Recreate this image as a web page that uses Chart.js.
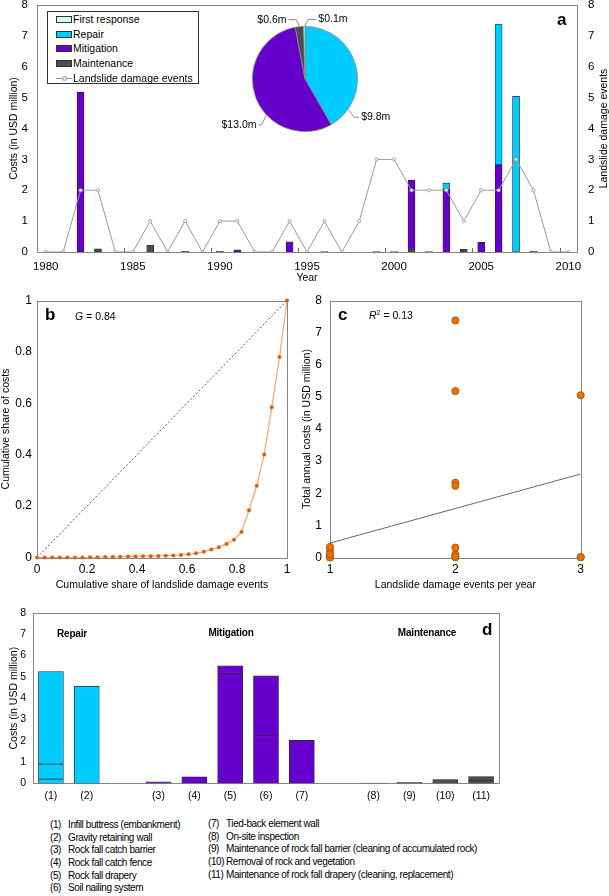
<!DOCTYPE html>
<html>
<head>
<meta charset="utf-8">
<script src="https://cdn.jsdelivr.net/npm/chart.js@4.4.0/dist/chart.umd.min.js"></script>
<style>
  body { margin: 0; background: #fff; }
  #wrap { position: relative; width: 609px; height: 896px; overflow: hidden; font-family: "Liberation Sans", Arial, sans-serif; color: #000; }
  canvas { position: absolute; }
  .lab { position: absolute; line-height: 1; white-space: nowrap; }
  .big { font-weight: bold; font-size: 17px; }
  #legA { position: absolute; left: 47px; top: 11px; width: 150px; height: 71px; border: 1px solid #333; background: #fff; font-size: 10.5px; }
  #legA .row { position: absolute; left: 0; width: 150px; height: 14px; line-height: 14px; }
  #legA .sw { position: absolute; left: 8px; top: 4px; width: 14px; height: 5px; border: 1px solid #333; }
  #legA .ln { position: absolute; left: 8px; top: 7px; width: 16px; height: 1px; background: #9a9a9a; }
  #legA .dot { position: absolute; left: 14px; top: 5px; width: 3px; height: 3px; border-radius: 50%; background: #e6e6e6; border: 0.5px solid #9a9a9a; }
  #legA .tx { position: absolute; left: 25px; top: 0; white-space: nowrap; }
  #y2title { position: absolute; left: 503px; top: 122px; width: 200px; height: 13px; line-height: 13px; font-size: 10.5px; text-align: center; transform: rotate(-90deg); white-space: nowrap; }
  .notes { position: absolute; font-size: 10px; line-height: 12.67px; letter-spacing: -0.4px; white-space: nowrap; }
  .notes span { display: inline-block; width: 18px; }
  .sec { position: absolute; font-weight: bold; font-size: 10px; line-height: 1; text-align: center; width: 100px; letter-spacing: -0.2px; }
</style>
</head>
<body>
<div id="wrap">
  <canvas id="chartA" width="609" height="290" style="left:0;top:0"></canvas>
  <canvas id="pieA" width="190" height="140" style="left:210px;top:9px"></canvas>
  <div id="y2title">Landslide damage events</div>
  <div id="legA">
    <div class="row" style="top:0"><div class="sw" style="background:#ccffff"></div><div class="tx">First response</div></div>
    <div class="row" style="top:14.7px"><div class="sw" style="background:#00ccff"></div><div class="tx">Repair</div></div>
    <div class="row" style="top:29.4px"><div class="sw" style="background:#6600cc"></div><div class="tx">Mitigation</div></div>
    <div class="row" style="top:44.1px"><div class="sw" style="background:#4d4d4d"></div><div class="tx">Maintenance</div></div>
    <div class="row" style="top:58.8px"><div class="ln"></div><div class="dot"></div><div class="tx">Landslide damage events</div></div>
  </div>
  <div class="lab big" style="left:557px;top:10.6px">a</div>

  <canvas id="chartB" width="300" height="310" style="left:0;top:290px"></canvas>
  <div class="lab big" style="left:45px;top:306.3px">b</div>
  <div class="lab" style="left:75px;top:311px;font-size:10.5px"><i>G</i> = 0.84</div>

  <canvas id="chartC" width="309" height="310" style="left:300px;top:290px"></canvas>
  <div class="lab big" style="left:338px;top:305.6px">c</div>
  <div class="lab" style="left:369px;top:310px;font-size:10.5px"><i>R</i><sup style="font-size:7px;vertical-align:4px;line-height:0">2</sup> = 0.13</div>

  <canvas id="chartD" width="609" height="210" style="left:0;top:600px"></canvas>
  <div class="lab big" style="left:482px;top:620.6px">d</div>
  <div class="sec" style="left:22px;top:629px">Repair</div>
  <div class="sec" style="left:181px;top:628px">Mitigation</div>
  <div class="sec" style="left:377px;top:628px">Maintenance</div>

  <div class="notes" style="left:50px;top:819px">
    <div><span>(1)</span>Infill buttress (embankment)</div>
    <div><span>(2)</span>Gravity retaining wall</div>
    <div><span>(3)</span>Rock fall catch barrier</div>
    <div><span>(4)</span>Rock fall catch fence</div>
    <div><span>(5)</span>Rock fall drapery</div>
    <div><span>(6)</span>Soil nailing system</div>
  </div>
  <div class="notes" style="left:208px;top:818px">
    <div><span>(7)</span>Tied-back element wall</div>
    <div><span>(8)</span>On-site inspection</div>
    <div><span>(9)</span>Maintenance of rock fall barrier (cleaning of accumulated rock)</div>
    <div><span>(10)</span>Removal of rock and vegetation</div>
    <div><span>(11)</span>Maintenance of rock fall drapery (cleaning, replacement)</div>
  </div>
</div>

<script>
// ---- panel a: annual costs by type + landslide damage events
const years = [1980, 1981, 1982, 1983, 1984, 1985, 1986, 1987, 1988, 1989, 1990,
  1991, 1992, 1993, 1994, 1995, 1996, 1997, 1998, 1999, 2000,
  2001, 2002, 2003, 2004, 2005, 2006, 2007, 2008, 2009, 2010]
const events = [0, 0, 2, 2, 0, 0, 1, 0, 1, 0, 1, 1, 0, 0, 1, 0, 1, 0, 1, 3, 3, 2, 2, 2, 1, 2, 2, 3, 2, 0, 0]
const maintenance = [0, 0, 0, 0.1, 0, 0, 0.22, 0, 0.02, 0, 0.02, 0, 0, 0, 0, 0, 0.01, 0, 0, 0.01, 0.01, 0.09, 0.01, 0, 0.09, 0, 0, 0, 0.02, 0, 0]
const mitigation = [0, 0, 5.18, 0, 0, 0, 0, 0, 0, 0, 0, 0.07, 0, 0, 0.33, 0, 0, 0, 0, 0, 0, 2.24, 0, 2.03, 0, 0.31, 2.82, 0, 0, 0, 0]
const repair = [0, 0, 0, 0, 0, 0, 0, 0, 0, 0, 0, 0, 0, 0, 0, 0, 0, 0, 0, 0, 0, 0, 0, 0.2, 0, 0, 4.56, 5.04, 0, 0, 0]
const firstResponse = [0, 0, 0, 0, 0, 0, 0, 0, 0, 0, 0, 0, 0, 0, 0, 0, 0, 0, 0, 0, 0, 0, 0, 0, 0, 0, 0, 0, 0, 0, 0]

// pie inset (total costs per type)
const pieLabels = ['Repair', 'Mitigation', 'Maintenance', 'First response']
const pieValues = [9.8, 13.0, 0.6, 0.1]
const pieText = ['$9.8m', '$13.0m', '$0.6m', '$0.1m']

// ---- panel b: Lorenz curve
const lorenzX = [0, 0.030, 0.061, 0.091, 0.121, 0.152, 0.182, 0.212, 0.242, 0.273, 0.303, 0.333,
  0.364, 0.394, 0.424, 0.455, 0.485, 0.515, 0.545, 0.576, 0.606, 0.636, 0.667, 0.697,
  0.727, 0.758, 0.788, 0.818, 0.848, 0.879, 0.909, 0.939, 0.970, 1]
const lorenzY = [0, 0, 0, 0, 0, 0, 0, 0.001, 0.001, 0.002, 0.002, 0.003, 0.004, 0.004, 0.005, 0.005,
  0.006, 0.007, 0.008, 0.010, 0.013, 0.017, 0.022, 0.031, 0.040, 0.053, 0.069, 0.099,
  0.184, 0.279, 0.401, 0.585, 0.780, 1]
const equalityX = [0, 1]
const equalityY = [0, 1]

// ---- panel c: events per year vs annual cost
const eventsPerYear = [1, 1, 1, 1, 1, 1, 1, 1, 2, 2, 2, 2, 2, 2, 2, 2, 3, 3, 3]
const annualCost = [0.22, 0.02, 0.02, 0.07, 0.33, 0.01, 0, 0.1, 5.18, 0.1, 2.33, 0.01, 2.23, 0.31, 7.38, 0.02, 0.01, 0.01, 5.05]
const trendX = [1, 3]
const trendY = [0.45, 2.6]

// ---- panel d: costs per measure
const measureLabels = ['(1)', '(2)', '', '(3)', '(4)', '(5)', '(6)', '(7)', '', '(8)', '(9)', '(10)', '(11)']
const measureType = ['repair', 'repair', '', 'mitigation', 'mitigation', 'mitigation', 'mitigation', 'mitigation', '', 'maintenance', 'maintenance', 'maintenance', 'maintenance']
const partA = [0.2, 4.55, 0, 0.07, 0.3, 5.17, 2.23, 2.02, 0, 0.01, 0.04, 0.18, 0.12]
const partB = [0.7, 0, 0, 0, 0, 0.35, 2.82, 0, 0, 0, 0, 0, 0.19]
const partC = [4.35, 0, 0, 0, 0, 0, 0, 0, 0, 0, 0, 0, 0]

const typeColor = { repair: '#00ccff', mitigation: '#6600cc', maintenance: '#4d4d4d', '': '#fff' }

Chart.defaults.font.family = '"Liberation Sans", Arial, sans-serif'
Chart.defaults.font.size = 10.5
Chart.defaults.color = '#000'
Chart.defaults.animation = false
Chart.defaults.responsive = false
Chart.defaults.plugins.legend.display = false
Chart.defaults.plugins.tooltip.enabled = false

const nz = v => (v ? v : null)
const short = v => String(Number(v.toFixed(1)))

function fix(prop, val) {
  return function (s) {
    s[prop] = val
    s.paddingLeft = s.paddingRight = s.paddingTop = s.paddingBottom = 0
  }
}

const noGrid = { display: false, drawTicks: false }
const noBorder = { display: false }

const frame = {
  id: 'frame',
  beforeDatasetsDraw(chart) {
    const { ctx, chartArea: a } = chart
    ctx.save()
    ctx.strokeStyle = '#858585'
    ctx.lineWidth = 1
    ctx.strokeRect(Math.round(a.left) + 0.5, Math.round(a.top) + 0.5, Math.round(a.right - a.left), Math.round(a.bottom - a.top))
    ctx.restore()
  }
}

// small tick marks between categories every 5 years
const catTicks = {
  id: 'catTicks',
  afterDatasetsDraw(chart) {
    const x = chart.scales.x, b = chart.chartArea.bottom, ctx = chart.ctx
    ctx.save()
    ctx.strokeStyle = '#666'
    ctx.lineWidth = 1
    for (let i = 4; i < years.length - 1; i += 5) {
      const px = Math.round((x.getPixelForValue(i) + x.getPixelForValue(i + 1)) / 2) + 0.5
      ctx.beginPath()
      ctx.moveTo(px, b)
      ctx.lineTo(px, b - 4)
      ctx.stroke()
    }
    ctx.restore()
  }
}

new Chart(document.getElementById('chartA'), {
  type: 'bar',
  data: {
    labels: years,
    datasets: [
      {
        type: 'line', label: 'Landslide damage events', data: events, yAxisID: 'y2', order: 0,
        borderColor: '#9a9a9a', borderWidth: 1, pointRadius: 1.7, pointBackgroundColor: '#e8e8e8',
        pointBorderColor: '#9a9a9a', pointBorderWidth: 0.7, tension: 0
      },
      { label: 'Maintenance', data: maintenance.map(nz), backgroundColor: '#4d4d4d', order: 1 },
      { label: 'Mitigation', data: mitigation.map(nz), backgroundColor: '#6600cc', order: 1 },
      { label: 'Repair', data: repair.map(nz), backgroundColor: '#00ccff', order: 1 },
      { label: 'First response', data: firstResponse.map(nz), backgroundColor: '#ccffff', order: 1 }
    ]
  },
  options: {
    layout: { padding: { top: 5, left: 0, right: 0, bottom: 0 } },
    datasets: { bar: { barThickness: 7, borderColor: '#222', borderWidth: 0.7, borderSkipped: false } },
    scales: {
      x: {
        stacked: true, offset: true, grid: noGrid, border: noBorder,
        ticks: {
          autoSkip: false, maxRotation: 0, padding: 8, font: { size: 11.5 },
          callback: (v, i) => (years[i] % 5 === 0 ? String(years[i]) : '')
        },
        title: { display: true, text: 'Year', padding: { top: 0, bottom: 6 } },
        afterFit: fix('height', 38)
      },
      y: {
        stacked: true, min: 0, max: 8, grid: noGrid, border: noBorder,
        ticks: { stepSize: 1, padding: 9, font: { size: 11.5 } },
        title: { display: true, text: 'Costs (in USD million)', padding: { top: 8, bottom: 0 } },
        afterFit: fix('width', 37)
      },
      y2: {
        position: 'right', min: 0, max: 8, grid: noGrid, border: noBorder,
        ticks: { stepSize: 1, padding: 11, font: { size: 11.5 } },
        afterFit: fix('width', 32)
      }
    }
  },
  plugins: [frame, catTicks]
})

// pie labels with leader lines
const pieLeaders = {
  id: 'pieLeaders',
  afterDraw(chart, args, opts) {
    const ctx = chart.ctx
    const meta = chart.getDatasetMeta(0)
    ctx.save()
    ctx.strokeStyle = '#8c8c8c'
    ctx.lineWidth = 1
    ctx.fillStyle = '#000'
    ctx.font = '10.5px "Liberation Sans", Arial, sans-serif'
    ctx.textBaseline = 'middle'
    meta.data.forEach((arc, i) => {
      const c = opts.items[i]
      const ang = (c.angle - 90) * Math.PI / 180
      const x0 = arc.x + arc.outerRadius * Math.cos(ang)
      const y0 = arc.y + arc.outerRadius * Math.sin(ang)
      const x1 = x0 + c.dx, y1 = y0 + c.dy
      const x2 = x1 + c.run
      ctx.beginPath()
      ctx.moveTo(x0, y0)
      ctx.lineTo(x1, y1)
      ctx.lineTo(x2, y1)
      ctx.stroke()
      ctx.textAlign = c.run > 0 ? 'left' : 'right'
      ctx.fillText(pieText[i], x2 + (c.run > 0 ? 2 : -2), y1)
    })
    ctx.restore()
  }
}

new Chart(document.getElementById('pieA'), {
  type: 'pie',
  data: {
    labels: pieLabels,
    datasets: [{
      data: pieValues,
      backgroundColor: ['#00ccff', '#6600cc', '#4d4d4d', '#ccffff'],
      borderColor: '#8c8c8c', borderWidth: 0.7
    }]
  },
  options: {
    layout: { padding: 17 },
    plugins: {
      pieLeaders: {
        items: [
          { angle: 125, dx: 6, dy: 8, run: 5 },
          { angle: 227, dx: -5, dy: 10, run: -3 },
          { angle: 354, dx: -3, dy: -7, run: -8 },
          { angle: 359.3, dx: 4, dy: -7, run: 8 }
        ]
      }
    }
  },
  plugins: [pieLeaders]
})

new Chart(document.getElementById('chartB'), {
  type: 'scatter',
  data: {
    datasets: [
      {
        data: lorenzX.map((x, i) => ({ x, y: lorenzY[i] })), showLine: true,
        borderColor: '#f3a66a', borderWidth: 1.2, pointRadius: 2, pointBackgroundColor: '#d8620f',
        pointBorderWidth: 0, clip: false
      },
      {
        data: equalityX.map((x, i) => ({ x, y: equalityY[i] })), showLine: true,
        borderColor: '#555', borderWidth: 1, borderDash: [2, 2], pointRadius: 0
      }
    ]
  },
  options: {
    layout: { padding: { top: 10.5, right: 13, left: 0, bottom: 0 } },
    scales: {
      x: {
        min: 0, max: 1, grid: noGrid, border: noBorder,
        ticks: { stepSize: 0.2, padding: 5, font: { size: 12 }, callback: short },
        title: { display: true, text: 'Cumulative share of landslide damage events', padding: { top: 0, bottom: 8.5 } },
        afterFit: fix('height', 42.5)
      },
      y: {
        min: 0, max: 1, grid: noGrid, border: noBorder,
        ticks: { stepSize: 0.2, padding: 5, font: { size: 12 }, callback: short },
        title: { display: true, text: 'Cumulative share of costs', padding: { top: 0, bottom: 0 } },
        afterFit: fix('width', 37)
      }
    }
  },
  plugins: [frame]
})

new Chart(document.getElementById('chartC'), {
  type: 'scatter',
  data: {
    datasets: [
      {
        data: eventsPerYear.map((x, i) => ({ x, y: annualCost[i] })),
        pointRadius: 3.6, pointBackgroundColor: '#e8700c', pointBorderColor: '#b04e00',
        pointBorderWidth: 0.8, clip: false
      },
      {
        data: trendX.map((x, i) => ({ x, y: trendY[i] })), showLine: true,
        borderColor: '#666', borderWidth: 1, pointRadius: 0
      }
    ]
  },
  options: {
    layout: { padding: { top: 10.5, right: 28.3, left: 0, bottom: 0 } },
    scales: {
      x: {
        min: 1, max: 3, grid: noGrid, border: noBorder,
        ticks: { stepSize: 1, padding: 5, font: { size: 12 } },
        title: { display: true, text: 'Landslide damage events per year', padding: { top: 0, bottom: 8.5 } },
        afterFit: fix('height', 42.5)
      },
      y: {
        min: 0, max: 8, grid: noGrid, border: noBorder,
        ticks: { stepSize: 1, padding: 8, font: { size: 12 } },
        title: { display: true, text: 'Total annual costs (in USD million)', padding: { top: 1, bottom: 0 } },
        afterFit: fix('width', 30)
      }
    }
  },
  plugins: [frame]
})

const measureColors = measureType.map(t => typeColor[t])
new Chart(document.getElementById('chartD'), {
  type: 'bar',
  data: {
    labels: measureLabels,
    datasets: [partA, partB, partC].map(p => ({
      data: p.map(nz), backgroundColor: measureColors
    }))
  },
  options: {
    layout: { padding: { top: 13, right: 110, left: 0, bottom: 0 } },
    datasets: { bar: { barThickness: 25, borderColor: '#2a2a2a', borderWidth: 0.7, borderSkipped: false } },
    scales: {
      x: {
        stacked: true, grid: noGrid, border: noBorder,
        ticks: { autoSkip: false, maxRotation: 0, padding: 7, font: { size: 10.5 } },
        afterFit: fix('height', 26.7)
      },
      y: {
        stacked: true, min: 0, max: 8, grid: noGrid, border: noBorder,
        ticks: { stepSize: 1, padding: 7, font: { size: 10.5 } },
        title: { display: true, text: 'Costs (in USD million)', padding: { top: 8, bottom: 0 } },
        afterFit: fix('width', 33)
      }
    }
  },
  plugins: [frame]
})
</script>
</body>
</html>
